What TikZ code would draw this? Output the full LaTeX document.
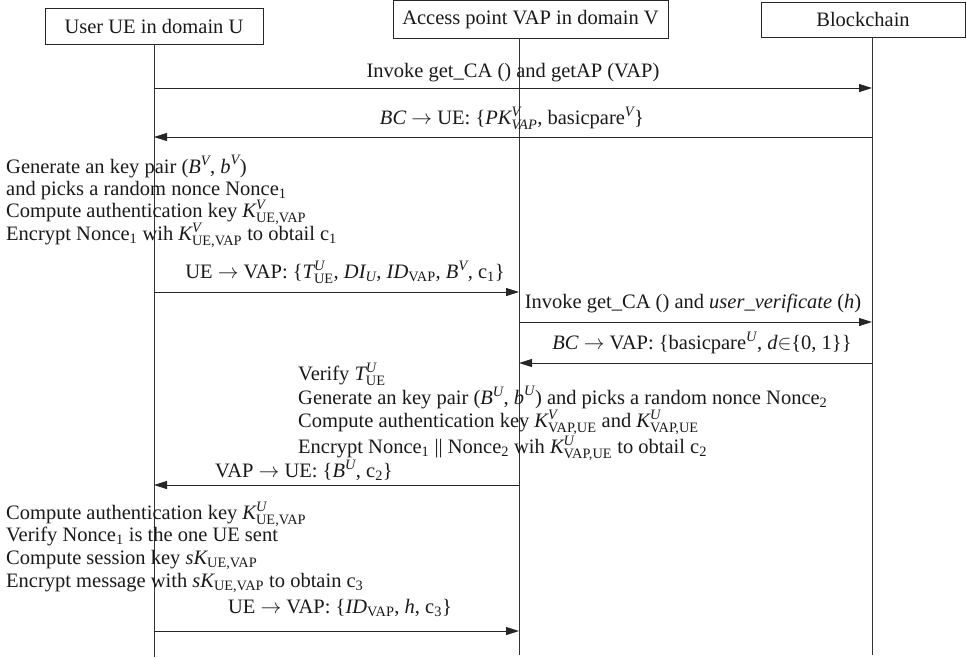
\documentclass[tikz,border=0pt]{standalone}
\usepackage{amsmath}
\usepackage{fontspec}
\setmainfont{Liberation Serif}
\usetikzlibrary{arrows.meta}
\newcommand{\vi}[1]{\textit{#1}}
\newcommand{\ur}[1]{\text{#1}}
\begin{document}
\begin{tikzpicture}[x=1pt,y=-1pt,
  every node/.style={font=\fontsize{20.5}{23}\selectfont, inner sep=0pt, text=black!90},
  actor/.style={draw=black!85, line width=0.9pt},
  life/.style={line width=1pt, draw=black!80},
  msg/.style={line width=1pt, draw=black!85, -{Triangle[length=13pt,width=8pt]}},
  lbl/.style={anchor=base},
  txt/.style={anchor=base west}]
\useasboundingbox (0,0) rectangle (966,657);
% actors
\node[actor, minimum width=218pt, minimum height=36pt] (ue) at (154,26) {User UE in domain U};
\node[actor, minimum width=275pt, minimum height=38pt] (vap) at (530.5,19.5) {Access point VAP in domain V};
\node[actor, minimum width=204pt, minimum height=35pt] (bc) at (863,19.5) {Blockchain};
% lifelines
\coordinate (vt) at (519,38);
\coordinate (bt) at (872,37);
\coordinate (ub) at (154,657);
\coordinate (vb) at (519,655);
\coordinate (bb) at (872,655);
\draw[life] (ue.south) -- (ub);
\draw[life] (vt) -- (vb);
\draw[life] (bt) -- (bb);
% message coordinates
\coordinate (u1) at (154,88);  \coordinate (b1) at (872,88);
\coordinate (u2) at (154,137); \coordinate (b2) at (872,137);
\coordinate (u3) at (154,292); \coordinate (v3) at (519,292);
\coordinate (v4) at (519,322); \coordinate (b4) at (872,322);
\coordinate (v5) at (519,363); \coordinate (b5) at (872,363);
\coordinate (u6) at (154,485); \coordinate (v6) at (519,485);
\coordinate (u7) at (154,631); \coordinate (v7) at (519,631);
\draw[msg] (u1) -- (b1);
\draw[msg] (b2) -- (u2);
\draw[msg] (u3) -- (v3);
\draw[msg] (v4) -- (b4);
\draw[msg] (b5) -- (v5);
\draw[msg] (v6) -- (u6);
\draw[msg] (u7) -- (v7);
% labels
\node[lbl] (l1) at (513,77) {Invoke get\_CA () and getAP (VAP)};
\node[lbl] (l2) at (512,124) {\vi{BC} $\rightarrow$ UE: \{$\vi{PK}^{\vi{V}}_{\vi{VAP}}$, basicpare$^{\vi{V}}$\}};
\node[txt] (a1) at (6,173) {Generate an key pair ($\vi{B}^{\vi{V}}$, $\vi{b}^{\vi{V}}$)};
\node[txt] (a2) at (6,195) {and picks a random nonce Nonce$_{\ur{1}}$};
\node[txt] (a3) at (6,217) {Compute authentication key $\vi{K}^{\vi{V}}_{\ur{UE,VAP}}$};
\node[txt] (a4) at (6,240) {Encrypt Nonce$_{\ur{1}}$ wih $\vi{K}^{\vi{V}}_{\ur{UE,VAP}}$ to obtail c$_{\ur{1}}$};
\node[lbl] (l3) at (345,278) {UE $\rightarrow$ VAP: \{$\vi{T}^{\vi{U}}_{\ur{UE}}$, $\vi{DI}_{\vi{U}}$, $\vi{ID}_{\ur{VAP}}$, $\vi{B}^{\vi{V}}$, c$_{\ur{1}}$\}};
\node[lbl] (l4) at (693,308) {Invoke get\_CA () and \vi{user\_verificate} (\vi{h})};
\node[lbl] (l5) at (702,349) {\vi{BC} $\rightarrow$ VAP: \{basicpare$^{\vi{U}}$, \vi{d}$\in$\{0, 1\}\}};
\node[txt] (m1) at (298,380) {Verify $\vi{T}^{\vi{U}}_{\ur{UE}}$};
\node[txt] (m2) at (298,404) {Generate an key pair ($\vi{B}^{\vi{U}}$, $\vi{b}^{\vi{U}}$) and picks a random nonce Nonce$_{\ur{2}}$};
\node[txt] (m3) at (298,427.5) {Compute authentication key $\vi{K}^{\vi{V}}_{\ur{VAP,UE}}$ and $\vi{K}^{\vi{U}}_{\ur{VAP,UE}}$};
\node[txt] (m4) at (298,453) {Encrypt Nonce$_{\ur{1}}$ || Nonce$_{\ur{2}}$ wih $\vi{K}^{\vi{U}}_{\ur{VAP,UE}}$ to obtail c$_{\ur{2}}$};
\node[lbl] (l6) at (304,477) {VAP $\rightarrow$ UE: \{$\vi{B}^{\vi{U}}$, c$_{\ur{2}}$\}};
\node[txt] (n1) at (6,519) {Compute authentication key $\vi{K}^{\vi{U}}_{\ur{UE,VAP}}$};
\node[txt] (n2) at (6,541) {Verify Nonce$_{\ur{1}}$ is the one UE sent};
\node[txt] (n3) at (6,564) {Compute session key $\vi{sK}_{\ur{UE,VAP}}$};
\node[txt] (n4) at (6,587) {Encrypt message with $\vi{sK}_{\ur{UE,VAP}}$ to obtain c$_{\ur{3}}$};
\node[lbl] (l7) at (340,613) {UE $\rightarrow$ VAP: \{$\vi{ID}_{\ur{VAP}}$, \vi{h}, c$_{\ur{3}}$\}};
\end{tikzpicture}
\end{document}
